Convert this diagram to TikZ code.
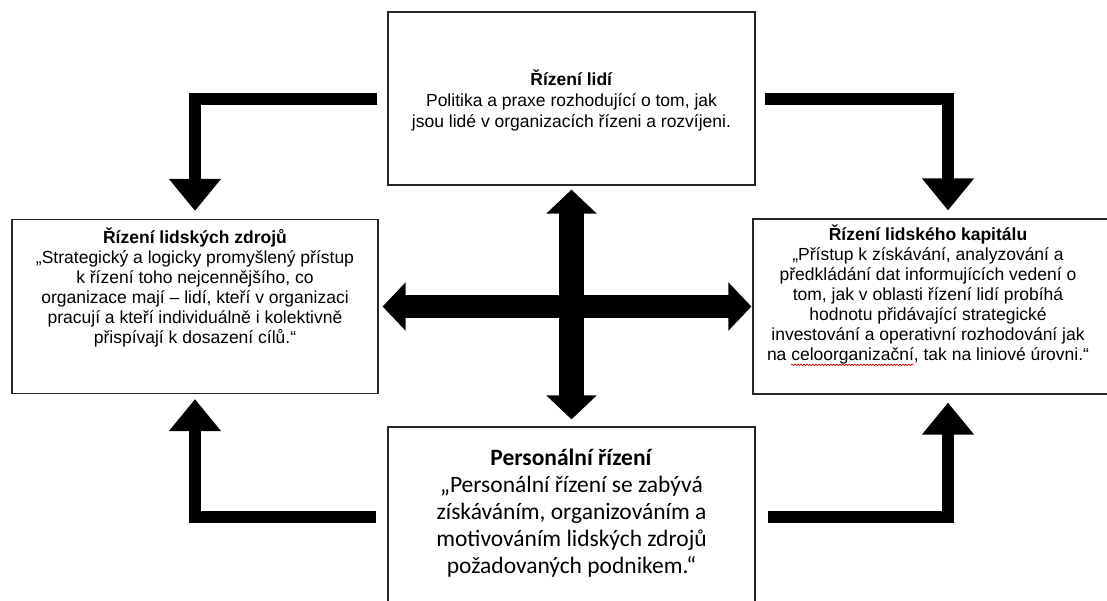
\documentclass[tikz,border=0pt]{standalone}
\usepackage{fontspec}
\setmainfont{Liberation Sans}
\newfontfamily\calfont{Carlito}
\usetikzlibrary{arrows.meta,decorations.pathmorphing}
\newlength\swlen
\newcommand\spellwave[1]{\settowidth\swlen{#1}#1\llap{\raisebox{-4pt}[0pt][0pt]{\tikz[x=1pt,y=1pt,baseline=0pt]\draw[red!80!black,line width=0.6pt,decorate,decoration={snake,amplitude=0.8pt,segment length=3pt}] (0,0) -- (\swlen,0);}}}
\begin{document}
\begin{tikzpicture}[x=1pt,y=-1pt,
  box/.style={draw=black!85, line width=1.2pt, fill=white, inner sep=0pt},
  txt/.style={align=center, inner sep=0pt, font=\fontsize{17.5}{20}\selectfont},
  toptxt/.style={align=center, inner sep=0pt, font=\fontsize{17.5}{21}\selectfont},
  bigtxt/.style={align=center, inner sep=0pt, font=\calfont\fontsize{23.5}{27}\selectfont},
  bent/.style={line width=12pt, line join=miter, -{Triangle[width=50pt,length=32pt]}},
  vdouble/.style={line width=25pt, {Triangle[width=49pt,length=24pt]}-{Triangle[width=49pt,length=24pt]}},
  hdouble/.style={line width=23pt, {Triangle[width=47pt,length=23pt]}-{Triangle[width=47pt,length=23pt]}}]
\clip (0,0) rectangle (1107,600);
\fill[white] (0,0) rectangle (1107,600);

\node[box, minimum width=367pt, minimum height=173pt] (top) at (571.5,98.5) {};
\node[box, minimum width=366pt, minimum height=174pt] (left) at (195,306.5) {};
\node[box, minimum width=390pt, minimum height=175pt] (right) at (948,306.5) {};
\node[box, minimum width=367pt, minimum height=180pt] (bottom) at (571.5,517) {};

\node[toptxt] (toptext) at (571.5,100) {\textbf{Řízení lidí}\\Politika a praxe rozhodující o tom, jak\\jsou lidé v organizacích řízeni a rozvíjeni.};
\node[txt, anchor=north] (lefttext) at (195,228) {\textbf{Řízení lidských zdrojů}\\„Strategický a logicky promyšlený přístup\\k řízení toho nejcennějšího, co\\organizace mají – lidí, kteří v organizaci\\pracují a kteří individuálně i kolektivně\\přispívají k dosazení cílů.“};
\node[txt, anchor=north] (righttext) at (928,225) {\textbf{Řízení lidského kapitálu}\\„Přístup k získávání, analyzování a\\předkládání dat informujících vedení o\\tom, jak v oblasti řízení lidí probíhá\\hodnotu přidávající strategické\\investování a operativní rozhodování jak\\na \spellwave{celoorganizační}, tak na liniové úrovni.“};
\node[bigtxt, anchor=north] (bottomtext) at (571.5,449) {\textbf{Personální řízení}\\„Personální řízení se zabývá\\získáváním, organizováním a\\motivováním lidských zdrojů\\požadovaných podnikem.“};

\draw[bent, shorten <=10pt, shorten >=8pt] (top.west) -| (left.north);
\draw[bent, shorten <=9pt, shorten >=8pt] (top.east) -| (right.north);
\draw[bent, shorten <=11pt, shorten >=5pt] (bottom.west) -| (left.south);
\draw[bent, shorten <=12pt, shorten >=8pt] (bottom.east) -| (right.south);

\draw[vdouble, shorten <=4pt, shorten >=7pt] (top.south) -- (bottom.north);
\draw[hdouble, shorten <=4pt, shorten >=1pt] (left.east) -- (right.west);
\end{tikzpicture}
\end{document}
